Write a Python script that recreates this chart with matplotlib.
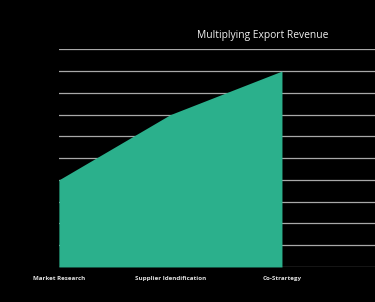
import matplotlib
matplotlib.use("Agg")
import matplotlib.pyplot as plt

stages = ["Market Research", "Supplier Idendification", "Co-Strartegy"]
revenue = [4, 7, 9]
grid_levels = list(range(0, 11))

fig = plt.figure(figsize=(3.75, 3.02), dpi=100, facecolor="black")
ax = fig.add_axes([0.157, 0.116, 0.843, 0.721], facecolor="black")

pos = list(range(len(stages)))
ax.fill_between(pos, revenue, 0, color="#2bb08c", linewidth=0, zorder=2)

for g in grid_levels:
    ax.axhline(g, color="#a8a8a8", linewidth=0.9, zorder=1)

ax.set_xlim(0, 2.834)
ax.set_ylim(0, 10)
ax.set_xticks(pos)
ax.set_xticklabels(stages, fontsize=4.5, color="#e0e0e0", fontweight="bold",
                   family="Open Sans")
ax.tick_params(axis="x", length=0, pad=6.5)
ax.set_yticks([])
for s in ax.spines.values():
    s.set_visible(False)

fig.text(0.701, 0.884, "Multiplying Export Revenue", ha="center", va="center",
         fontsize=7.4, color="#f0f0f0", family="Open Sans")

fig.savefig("out.png", dpi=100, facecolor="black")
